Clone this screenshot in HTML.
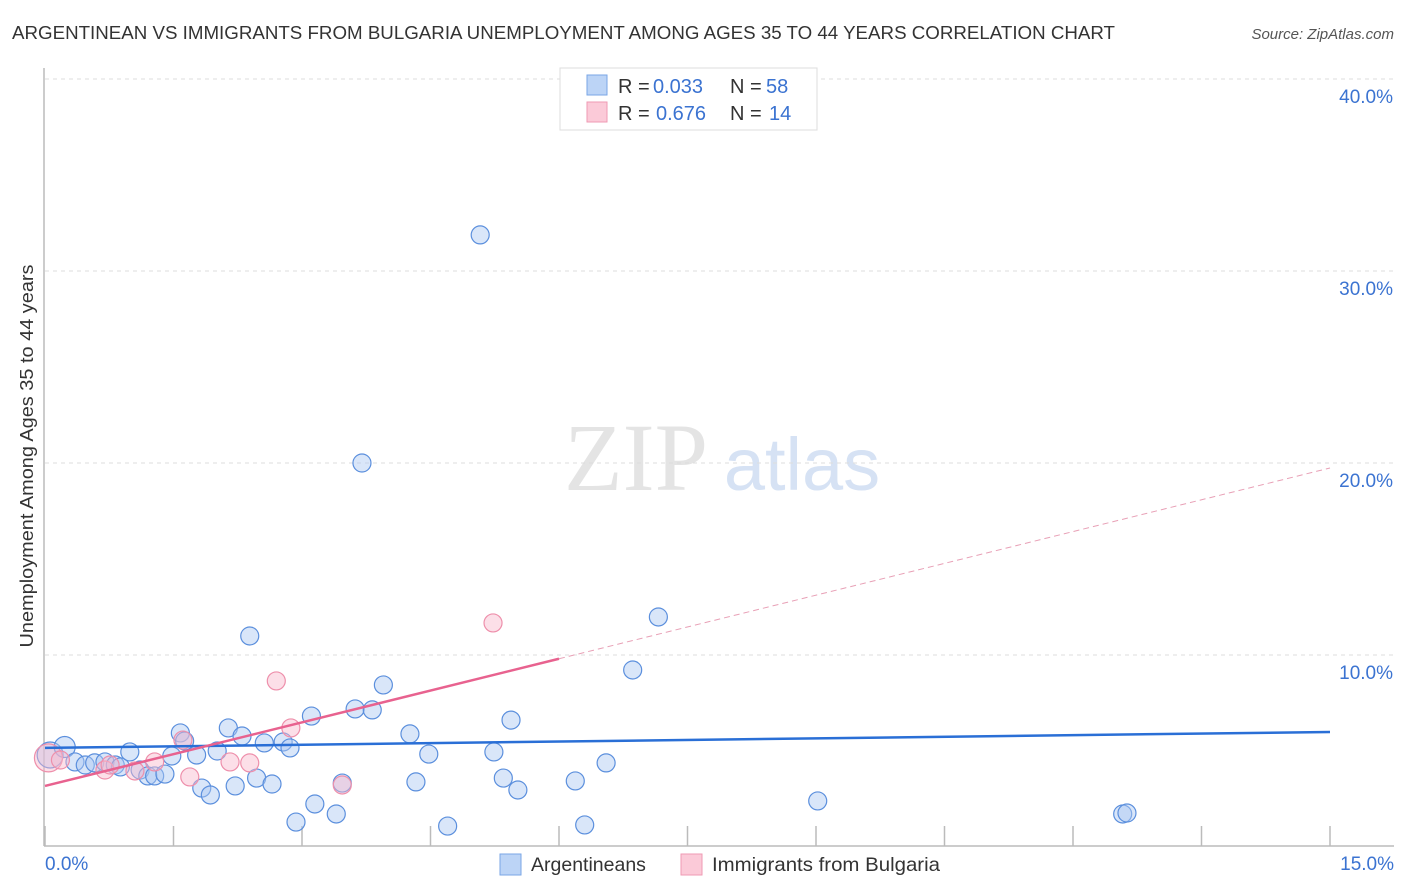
<!DOCTYPE html>
<html><head><meta charset="utf-8"><style>
body{margin:0;background:#fff;font-family:"Liberation Sans",sans-serif;}
svg{display:block}
</style></head><body>
<svg id="chart" width="1406" height="892" xmlns="http://www.w3.org/2000/svg">
<text x="12" y="39" font-size="18" fill="#333" textLength="1103" lengthAdjust="spacingAndGlyphs">ARGENTINEAN VS IMMIGRANTS FROM BULGARIA UNEMPLOYMENT AMONG AGES 35 TO 44 YEARS CORRELATION CHART</text>
<text x="1394" y="39" font-size="15" fill="#555" text-anchor="end" font-style="italic">Source: ZipAtlas.com</text>
<text x="636" y="490" font-size="96" fill="#e4e4e4" font-family="Liberation Serif,serif" text-anchor="middle">ZIP</text>
<text x="802" y="490" font-size="74" fill="#d6e2f4" text-anchor="middle">atlas</text>
<g id="grid"></g>
<line x1="44" y1="68" x2="44" y2="846" stroke="#bbb" stroke-width="1.5"/>
<line x1="44" y1="846" x2="1394" y2="846" stroke="#bbb" stroke-width="1.5"/>
<g id="ticks"></g>
<g id="pts"></g>
<g id="trends"></g>
<text transform="translate(33,456) rotate(-90)" font-size="18" fill="#333" text-anchor="middle" textLength="383" lengthAdjust="spacingAndGlyphs">Unemployment Among Ages 35 to 44 years</text>
<text x="45" y="870" font-size="19" fill="#3b73d1">0.0%</text>
<text x="1394" y="870" font-size="19" fill="#3b73d1" text-anchor="end">15.0%</text>
<g>
<rect x="560" y="68" width="257" height="62" fill="#fff" stroke="#ddd"/>
<rect x="587" y="75" width="20" height="20" fill="#bcd4f6" stroke="#7aa6e6"/>
<rect x="587" y="102" width="20" height="20" fill="#fbcad8" stroke="#ef9ab3"/>
<text x="618" y="93" font-size="20" fill="#333">R = <tspan fill="#3b73d1" x="653">0.033</tspan><tspan x="730">N = </tspan><tspan fill="#3b73d1" x="766">58</tspan></text>
<text x="618" y="120" font-size="20" fill="#333">R = <tspan fill="#3b73d1" x="656">0.676</tspan><tspan x="730">N = </tspan><tspan fill="#3b73d1" x="769">14</tspan></text>
</g>
<g>
<rect x="500" y="854" width="21" height="21" fill="#bcd4f6" stroke="#7aa6e6"/>
<text x="531" y="871" font-size="19.5" fill="#333">Argentineans</text>
<rect x="681" y="854" width="21" height="21" fill="#fbcad8" stroke="#ef9ab3"/>
<text x="712" y="871" font-size="19.5" fill="#333" textLength="228" lengthAdjust="spacingAndGlyphs">Immigrants from Bulgaria</text>
</g>
</svg>
<script>
const yTicks=[10,20,30,40];
const yTickLabels=["10.0%","20.0%","30.0%","40.0%"];
const xTicks=[0,1.5,3,4.5,6,7.5,9,10.5,12,13.5,15];
const blueX=[0.06,0.23,0.35,0.47,0.58,0.70,0.82,0.88,0.99,1.11,1.20,1.28,1.40,1.48,1.58,1.63,1.77,1.83,1.93,2.01,2.14,2.22,2.30,2.39,2.47,2.56,2.65,2.78,2.86,2.93,3.11,3.15,3.40,3.47,3.62,3.70,3.82,3.95,4.26,4.33,4.48,4.70,5.08,5.24,5.35,5.44,5.52,6.19,6.30,6.55,6.86,7.16,9.02,12.58,12.63];
const blueY=[4.79,5.21,4.43,4.27,4.38,4.43,4.27,4.17,4.95,4.01,3.70,3.70,3.80,4.74,5.94,5.52,4.79,3.07,2.71,5.00,6.20,3.18,5.78,10.99,3.59,5.42,3.28,5.47,5.16,1.30,6.82,2.24,1.72,3.33,7.19,20.0,7.14,8.44,5.89,3.39,4.84,1.09,31.88,4.95,3.59,6.61,2.97,3.44,1.15,4.38,9.22,11.98,2.40,1.72,1.77];
const pinkX=[0.04,0.18,0.70,0.76,1.05,1.28,1.61,1.69,2.16,2.39,2.70,2.87,3.47,5.23];
const pinkY=[4.64,4.53,4.01,4.27,3.96,4.43,5.57,3.65,4.43,4.38,8.65,6.20,3.23,11.67];
const blueTrend=[5.16,5.99];
const pinkTrend=[3.18,19.74];
const pinkSolidEnd=6.0;
const NS="http://www.w3.org/2000/svg";
const xs=v=>45+v/15*1285;
const ys=v=>847-v*19.2;
function mk(tag,attrs,parent){const e=document.createElementNS(NS,tag);for(const k in attrs)e.setAttribute(k,attrs[k]);document.getElementById(parent).appendChild(e);return e;}
yTicks.forEach((t,i)=>{
 const l=mk('line',{x1:45,x2:1394,y1:ys(t),y2:ys(t),stroke:'#ddd','stroke-dasharray':'4,4'},'grid');
 
 
 const tx=mk('text',{x:1393,y:ys(t)+24,'font-size':19,fill:'#3b73d1','text-anchor':'end'},'grid');
 tx.textContent=yTickLabels[i];
 
 
});
xTicks.forEach(t=>{
 const l=mk('line',{x1:xs(t),x2:xs(t),y1:826,y2:846,stroke:'#bbb','stroke-width':1.5},'ticks');
 
 
});
blueX.forEach((x,i)=>{
 const c=mk('circle',{cx:xs(x),cy:ys(blueY[i]),r:i===0?13:(i===1?10.5:9),fill:'rgba(170,200,242,0.45)',stroke:'#5b8fdd','stroke-width':1.2},'pts');
 
 
});
pinkX.forEach((x,i)=>{
 const c=mk('circle',{cx:xs(x),cy:ys(pinkY[i]),r:i===0?14:9,fill:'rgba(248,185,204,0.45)',stroke:'#ee8fab','stroke-width':1.2},'pts');
 
 
});
const bl=mk('line',{x1:xs(0),y1:ys(blueTrend[0]),x2:xs(15),y2:ys(blueTrend[1]),stroke:'#2a6fd6','stroke-width':2.5},'trends');


const pm=v=>pinkTrend[0]+(pinkTrend[1]-pinkTrend[0])*v/15;
const ps=mk('line',{x1:xs(0),y1:ys(pm(0)),x2:xs(pinkSolidEnd),y2:ys(pm(pinkSolidEnd)),stroke:'#e8628f','stroke-width':2.5},'trends');


const pd=mk('line',{x1:xs(pinkSolidEnd),y1:ys(pm(pinkSolidEnd)),x2:xs(15),y2:ys(pm(15)),stroke:'#e8a0b6','stroke-width':1,'stroke-dasharray':'6,4'},'trends');


</script>
</body></html>
